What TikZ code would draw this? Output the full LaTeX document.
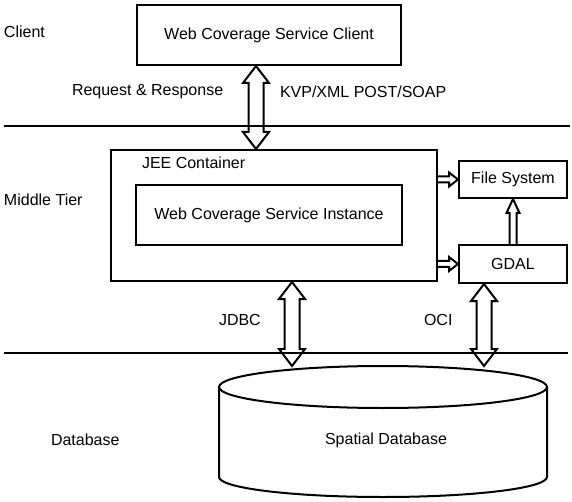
\documentclass[tikz,border=0pt]{standalone}
\usepackage{fontspec}
\setmainfont{Liberation Sans}
\usetikzlibrary{calc}
\tikzstyle{box}=[rectangle,draw=black,inner sep=0pt]
\tikzstyle{tag}=[anchor=west,inner sep=0pt]
\tikzstyle{dblarrow}=[to path={let \p1=(\tikztostart), \p2=(\tikztotarget) in
  (\x1,\y1) -- (\x1+13pt,\y1-17pt) -- (\x1+7.5pt,\y1-17pt) -- (\x1+7.5pt,\y2+17pt) -- (\x1+13pt,\y2+17pt)
  -- (\x1,\y2) -- (\x1-13pt,\y2+17pt) -- (\x1-7.5pt,\y2+17pt) -- (\x1-7.5pt,\y1-17pt) -- (\x1-13pt,\y1-17pt) -- cycle}]
\tikzstyle{rarrow}=[to path={let \p1=(\tikztostart), \p2=(\tikztotarget) in
  (\x1,\y2+3pt) -- (\x2-9pt,\y2+3pt) -- (\x2-9pt,\y2+7pt) -- (\x2,\y2) -- (\x2-9pt,\y2-7pt) -- (\x2-9pt,\y2-3pt) -- (\x1,\y2-3pt)}]
\tikzstyle{uarrow}=[to path={let \p1=(\tikztostart), \p2=(\tikztotarget) in
  (\x1-3.5pt,\y1) -- (\x1-3.5pt,\y2-14pt) -- (\x1-6.5pt,\y2-14pt) -- (\x1,\y2) -- (\x1+6.5pt,\y2-14pt) -- (\x1+3.5pt,\y2-14pt) -- (\x1+3.5pt,\y1)}]

\begin{document}
\begin{tikzpicture}[x=1pt,y=-1pt,line width=2pt,font=\fontsize{16}{19}\selectfont]
			\fill[white] (0,0) rectangle (572,502);
			\useasboundingbox (0,0) rectangle (572,502);
			% tiers
			\draw (4,126) -- (570,126);
			\draw (4,353) -- (568,353);
			\node[tag] (client) at (3,32) {Client};
			\node[tag] (middle) at (3,200) {Middle Tier};
			\node[tag] (database) at (50,440) {Database};
			
			\node[box,minimum width=264,minimum height=60] (cl) at (269,35) {Web Coverage Service Client};
			\node[box,minimum width=326,minimum height=131] (jee) at (274,215.5) {};
			\node[tag] (jeelabel) at (141,163) {JEE Container};
			\node[box,minimum width=266,minimum height=60] (wcsi) at (269,215) {Web Coverage Service Instance};
			\node[box,minimum width=108,minimum height=37] (fs) at (513,179.5) {File System};
			\node[box,minimum width=108,minimum height=38] (gdal) at (513,264) {GDAL};
			
			% database
			\coordinate (dbtop) at (383,366);
			\draw (219,387) -- (219,477) arc[start angle=180,end angle=360,x radius=164pt,y radius=20pt] -- (547,387);
			\draw (383,387) ellipse [x radius=164pt,y radius=21pt];
			\node (db) at (386,440) {Spatial Database};
			
			\node[tag] (req) at (71,92) {Request \& Response};
			\node[tag] (kvp) at (279,92) {KVP/XML POST/SOAP};
			\node[tag] (jdbc) at (218,320) {JDBC};
			\node[tag] (oci) at (423,320) {OCI};
			
			\draw (cl.south -| 256,0) to[dblarrow] (jee.north -| 256,0);
			\draw (jee.south -| 292,0) to[dblarrow] (dbtop -| 292,0);
			\draw (gdal.south -| 484,0) to[dblarrow] (dbtop -| 484,0);
			\foreach \b in {fs,gdal}
			\draw (jee.east |- \b.west) to[rarrow] (\b.west);
			\draw (gdal.north) to[uarrow] (fs.south);
		\end{tikzpicture}
\end{document}
